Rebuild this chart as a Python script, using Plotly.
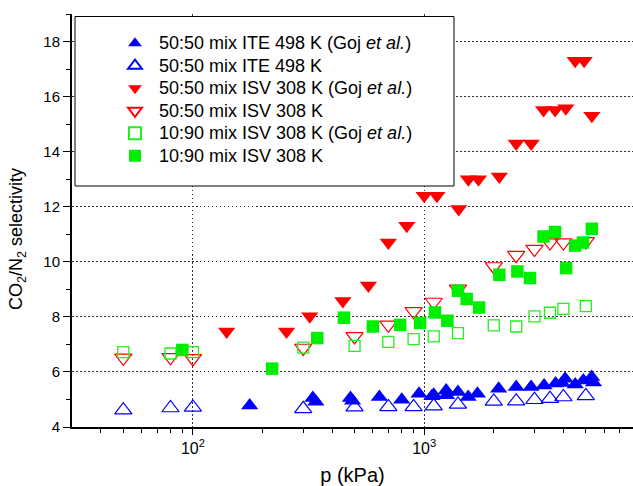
import numpy as np
import plotly.graph_objects as go

# ---------------- data ----------------
# 50:50 mix ITE 498 K (Goj et al.)  - filled blue up-triangles
p_ite_goj = [176, 330, 340, 480, 490, 640, 800, 950, 1080, 1100, 1245, 1250, 1400,
             1550, 1700, 2100, 2500, 2900, 3300, 3700, 3950, 4070, 4500, 4880, 5300, 5400]
s_ite_goj = [4.78, 5.05, 4.92, 5.05, 4.95, 5.09, 4.99, 5.21, 5.12, 5.17, 5.33, 5.15, 5.27,
             5.09, 5.21, 5.39, 5.45, 5.45, 5.51, 5.58, 5.60, 5.75, 5.54, 5.69, 5.82, 5.62]

# 50:50 mix ITE 498 K - open blue up-triangles
p_ite_sim = [50, 80, 100, 300, 500, 700, 900, 1100, 1400, 2000, 2500, 3000, 3500, 4000, 5000]
s_ite_sim = [4.61, 4.69, 4.71, 4.66, 4.72, 4.73, 4.73, 4.76, 4.82, 4.93, 4.94, 4.99, 5.03, 5.09, 5.13]

# 50:50 mix ISV 308 K (Goj et al.) - filled red down-triangles
p_isv_goj = [140, 254, 320, 445, 574, 700, 841, 1000, 1135, 1410, 1553, 1717, 2113,
             2500, 2904, 3283, 3684, 4098, 4498, 4918, 5310]
s_isv_goj = [7.47, 7.47, 8.02, 8.58, 9.14, 10.70, 11.31, 12.40, 12.40, 11.92, 13.00, 13.00, 13.10,
             14.30, 14.30, 15.51, 15.51, 15.58, 17.30, 17.30, 15.30]

# 50:50 mix ISV 308 K - open red down-triangles
p_isv_sim = [50, 80, 100, 300, 500, 700, 900, 1100, 1400, 2000, 2500, 3000, 3500, 4000, 5000]
s_isv_sim = [6.51, 6.53, 6.49, 6.87, 7.29, 7.71, 8.20, 8.54, 9.02, 9.83, 10.24, 10.46, 10.70, 10.70, 10.74]

# 10:90 mix ISV 308 K (Goj et al.) - open green squares
p_1090_goj = [50, 80, 100, 300, 500, 700, 900, 1100, 1400, 2000, 2500, 3000, 3500, 4000, 5000]
s_1090_goj = [6.72, 6.67, 6.72, 6.88, 6.95, 7.09, 7.19, 7.29, 7.41, 7.69, 7.65, 8.02, 8.15, 8.29, 8.39]

# 10:90 mix ISV 308 K - filled green squares
p_1090_sim = [90, 220, 345, 450, 600, 787, 960, 1113, 1260, 1400, 1527, 1729, 2114,
              2530, 2870, 3283, 3684, 4110, 4498, 4862, 5310]
s_1090_sim = [6.80, 6.12, 7.23, 7.97, 7.65, 7.71, 7.78, 8.16, 7.86, 8.95, 8.65, 8.34, 9.53,
              9.65, 9.41, 10.92, 11.08, 9.77, 10.59, 10.70, 11.20]

names = [
    "50:50 mix ITE 498 K (Goj <i>et al.</i>)",
    "50:50 mix ITE 498 K",
    "50:50 mix ISV 308 K (Goj <i>et al.</i>)",
    "50:50 mix ISV 308 K",
    "10:90 mix ISV 308 K (Goj <i>et al.</i>)",
    "10:90 mix ISV 308 K",
]

x_title = "p (kPa)"
y_title = "CO<sub>2</sub>/N<sub>2</sub> selectivity"
x_major = [100, 1000]
x_major_text = ["10<sup>2</sup>", "10<sup>3</sup>"]
x_minor = [40, 50, 60, 70, 80, 90, 200, 300, 400, 500, 600, 700, 800, 900,
           2000, 3000, 4000, 5000, 6000, 7000]
y_major = [4, 6, 8, 10, 12, 14, 16, 18]
y_minor = [5, 7, 9, 11, 13, 15, 17, 19]

BLUE, RED, GREEN = "#0000FF", "#FF0000", "#00EE00"

series = [
    (p_ite_goj, s_ite_goj, "triangle-up", BLUE, 15, 0),
    (p_ite_sim, s_ite_sim, "triangle-up-open", BLUE, 15, 1.2),
    (p_isv_goj, s_isv_goj, "triangle-down", RED, 15, 0),
    (p_isv_sim, s_isv_sim, "triangle-down-open", RED, 15, 1.2),
    (p_1090_goj, s_1090_goj, "square-open", "#22EE22", 11, 1.3),
    (p_1090_sim, s_1090_sim, "square", GREEN, 12.5, 0),
]

fig = go.Figure()
for (x, y, sym, col, size, lw), name in zip(series, names):
    fig.add_trace(go.Scatter(
        x=x, y=y, mode="markers",
        name='<span style="font-size:18px">' + name + '</span>',
        marker=dict(symbol=sym, color=col, size=size, line=dict(color=col, width=lw)),
    ))

L, R, T, B = 72, 0, 14, 59
W, H = 633, 486
pw, ph = W - L - R, H - T - B


def px_x(px):
    return (px - L) / pw


def px_y(py):
    return (H - B - py) / ph


FONT = "Liberation Sans, Arial, sans-serif"
GRID = dict(showgrid=True, gridcolor="#333333", griddash="1.5px,2.5px", gridwidth=1)

fig.update_layout(
    width=W, height=H,
    margin=dict(l=L, r=R, t=T, b=B, pad=0),
    paper_bgcolor="white", plot_bgcolor="white",
    font=dict(family=FONT, color="black", size=15),
    showlegend=True,
    legend=dict(
        x=px_x(111), y=px_y(27), xanchor="left", yanchor="top",
        bgcolor="rgba(0,0,0,0)", borderwidth=0,
        font=dict(family=FONT, size=15, color="black"),
        itemsizing="constant", itemwidth=38, tracegroupgap=0,
    ),
    xaxis=dict(
        type="log", range=[np.log10(30), np.log10(8000)],
        tickvals=x_major, ticktext=x_major_text,
        ticks="outside", ticklen=6, tickwidth=1.2, tickcolor="black",
        showline=True, linewidth=2, linecolor="black", zeroline=False,
        tickfont=dict(size=16),
        minor=dict(tickvals=x_minor, ticks="outside", ticklen=4, tickwidth=1.2,
                   tickcolor="black", showgrid=False),
        title=dict(text=x_title, font=dict(size=20), standoff=12),
        automargin=False,
        **GRID,
    ),
    xaxis2=dict(
        type="log", range=[np.log10(30), np.log10(8000)], overlaying="x", side="top",
        anchor="y", tickvals=x_major + x_minor, ticks="outside", ticklen=2,
        tickcolor="black", showticklabels=False, showline=True, linewidth=1.5,
        linecolor="black", showgrid=False, zeroline=False,
    ),
    yaxis=dict(
        range=[4, 19], tickvals=y_major,
        ticks="outside", ticklen=7, tickwidth=1.2, tickcolor="black",
        showline=True, linewidth=2, linecolor="black", zeroline=False,
        tickfont=dict(size=15),
        minor=dict(tickvals=y_minor, ticks="outside", ticklen=4, tickwidth=1.2,
                   tickcolor="black", showgrid=False),
        automargin=False,
        **GRID,
    ),
    shapes=[dict(
        type="rect", xref="paper", yref="paper",
        x0=px_x(75), x1=px_x(454), y0=px_y(186), y1=px_y(16.5),
        line=dict(color="black", width=1), fillcolor="white", layer="above",
    )],
    annotations=[dict(
        text=y_title, textangle=-90, xref="paper", yref="paper",
        x=px_x(17), y=px_y(239), xanchor="center", yanchor="middle",
        showarrow=False, font=dict(size=18, family=FONT, color="black"),
    )],
)

fig.write_html("out.html")
